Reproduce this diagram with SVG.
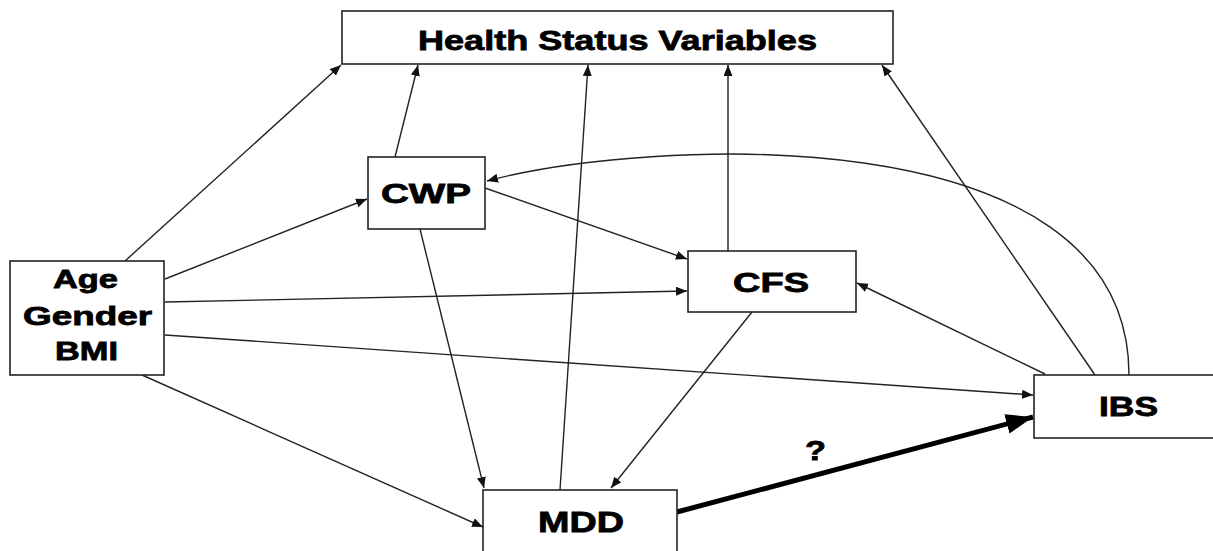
<svg xmlns="http://www.w3.org/2000/svg" width="1213" height="551" viewBox="0 0 1213 551">
<style>
.box{fill:#fff;stroke:#222;stroke-width:1.6}
.t{font-family:"Liberation Sans",Arial,sans-serif;font-weight:bold;fill:#000;stroke:#000;stroke-width:0.8}
.c{fill:none;stroke:#222;stroke-width:1.4}
</style>
<defs>
<marker id="a" markerUnits="userSpaceOnUse" markerWidth="12" markerHeight="10" refX="11" refY="4.5" orient="auto">
<path d="M0,0 L11,4.5 L0,9 Z" fill="#111"/>
</marker>
<marker id="b" markerUnits="userSpaceOnUse" markerWidth="28" markerHeight="22" refX="27" refY="10" orient="auto">
<path d="M0,0 L27,10 L0,20 Z" fill="#000"/>
</marker>
</defs>
<g id="connectors">
<line class="c" x1="125" y1="261" x2="341" y2="65" marker-end="url(#a)"/>
<line class="c" x1="395" y1="157" x2="418" y2="65" marker-end="url(#a)"/>
<line class="c" x1="560" y1="490" x2="588" y2="65" marker-end="url(#a)"/>
<line class="c" x1="728" y1="251" x2="728" y2="65" marker-end="url(#a)"/>
<line class="c" x1="1095" y1="375" x2="882" y2="65" marker-end="url(#a)"/>
<line class="c" x1="165" y1="279" x2="367" y2="199" marker-end="url(#a)"/>
<line class="c" x1="165" y1="302" x2="687" y2="291" marker-end="url(#a)"/>
<line class="c" x1="165" y1="335" x2="1033" y2="395" marker-end="url(#a)"/>
<line class="c" x1="142" y1="375" x2="483" y2="527" marker-end="url(#a)"/>
<line class="c" x1="485" y1="188" x2="687" y2="259" marker-end="url(#a)"/>
<line class="c" x1="420" y1="229" x2="484" y2="488" marker-end="url(#a)"/>
<line class="c" x1="752" y1="312" x2="611" y2="488" marker-end="url(#a)"/>
<line class="c" x1="1045" y1="374" x2="857" y2="283" marker-end="url(#a)"/>
<path class="c" d="M1129,375 C1129,110 640,140 487,181" marker-end="url(#a)"/>
<line x1="677" y1="512" x2="1033" y2="417" stroke="#000" stroke-width="5" marker-end="url(#b)"/>
<text class="t" x="805" y="460" font-size="28" textLength="21" lengthAdjust="spacingAndGlyphs">?</text>
</g>
<g id="health">
<rect class="box" x="342" y="11" width="551" height="53"/>
<text class="t" x="418" y="50" font-size="28" textLength="399" lengthAdjust="spacingAndGlyphs">Health Status Variables</text>
</g>
<g id="age">
<rect class="box" x="10" y="261" width="154" height="114"/>
<text class="t" x="53" y="288" font-size="26" textLength="65" lengthAdjust="spacingAndGlyphs">Age</text>
<text class="t" x="23" y="325" font-size="26" textLength="129" lengthAdjust="spacingAndGlyphs">Gender</text>
<text class="t" x="55" y="360" font-size="26" textLength="63" lengthAdjust="spacingAndGlyphs">BMI</text>
</g>
<g id="cwp">
<rect class="box" x="368" y="157" width="117" height="72"/>
<text class="t" x="381" y="203" font-size="27" textLength="90" lengthAdjust="spacingAndGlyphs">CWP</text>
</g>
<g id="cfs">
<rect class="box" x="688" y="251" width="168" height="61"/>
<text class="t" x="733" y="292" font-size="27" textLength="76" lengthAdjust="spacingAndGlyphs">CFS</text>
</g>
<g id="ibs">
<rect class="box" x="1034" y="375" width="185" height="63"/>
<text class="t" x="1099" y="416" font-size="28" textLength="59" lengthAdjust="spacingAndGlyphs">IBS</text>
</g>
<g id="mdd">
<rect class="box" x="483" y="490" width="194" height="70"/>
<text class="t" x="538" y="532" font-size="29" textLength="86" lengthAdjust="spacingAndGlyphs">MDD</text>
</g>
</svg>
